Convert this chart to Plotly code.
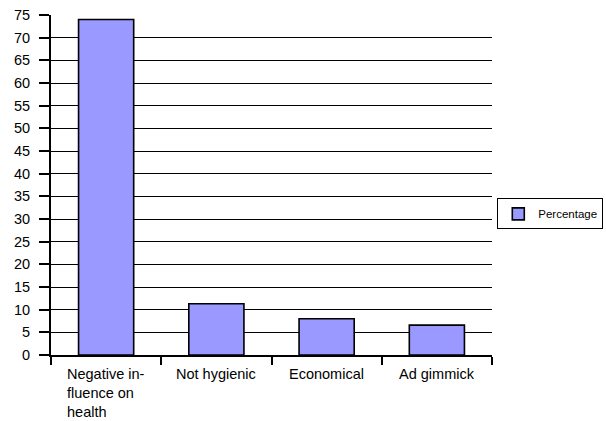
import plotly.graph_objects as go

# Survey responses: reasons given, as a percentage of respondents
categories = ["Negative in-<br>fluence on<br>health", "Not hygienic", "Economical", "Ad gimmick"]
category_keys = ["neg", "hyg", "eco", "ad"]
percentage = [74, 11.3, 8, 6.6]
y_ticks = list(range(0, 80, 5))

FONT = "Liberation Sans, Arial, sans-serif"

fig = go.Figure()
fig.add_trace(go.Bar(
    x=category_keys,
    y=percentage,
    name="Percentage",
    marker=dict(color="#9999FF", line=dict(color="black", width=1.6)),
    width=0.5,
))

# Category labels: block centred under each bar, lines left-aligned
for key, label in zip(category_keys, categories):
    fig.add_annotation(
        x=key, xref="x", y=0, yref="paper",
        text=label, showarrow=False, align="left",
        xanchor="center", yanchor="top", yshift=-9,
        font=dict(family=FONT, size=14.5, color="black"),
    )

fig.update_layout(
    width=606, height=421,
    margin=dict(l=51, r=114, t=15, b=66, autoexpand=False),
    paper_bgcolor="white", plot_bgcolor="white",
    font=dict(family=FONT, size=14, color="black"),
    showlegend=True,
    legend=dict(
        x=1.012, xanchor="left", y=0.415, yanchor="middle",
        bordercolor="black", borderwidth=1,
        font=dict(family=FONT, size=11.5, color="black"),
        itemwidth=30, tracegroupgap=0,
    ),
    bargap=0.5,
)
fig.update_xaxes(
    showticklabels=False, tickson="boundaries", ticks="outside",
    ticklen=8, tickwidth=1.5, tickcolor="black",
    showline=True, linecolor="black", linewidth=2, showgrid=False,
)
fig.update_yaxes(
    range=[0, 75], tickvals=y_ticks, ticks="outside", ticklen=10,
    tickwidth=1.5, tickcolor="black", ticklabelstandoff=6,
    showline=True, linecolor="black", linewidth=2,
    showgrid=True, gridcolor="black", gridwidth=1.4,
    zeroline=False, tickfont=dict(family=FONT, size=14.5, color="black"),
)

fig.write_html("out.html")
